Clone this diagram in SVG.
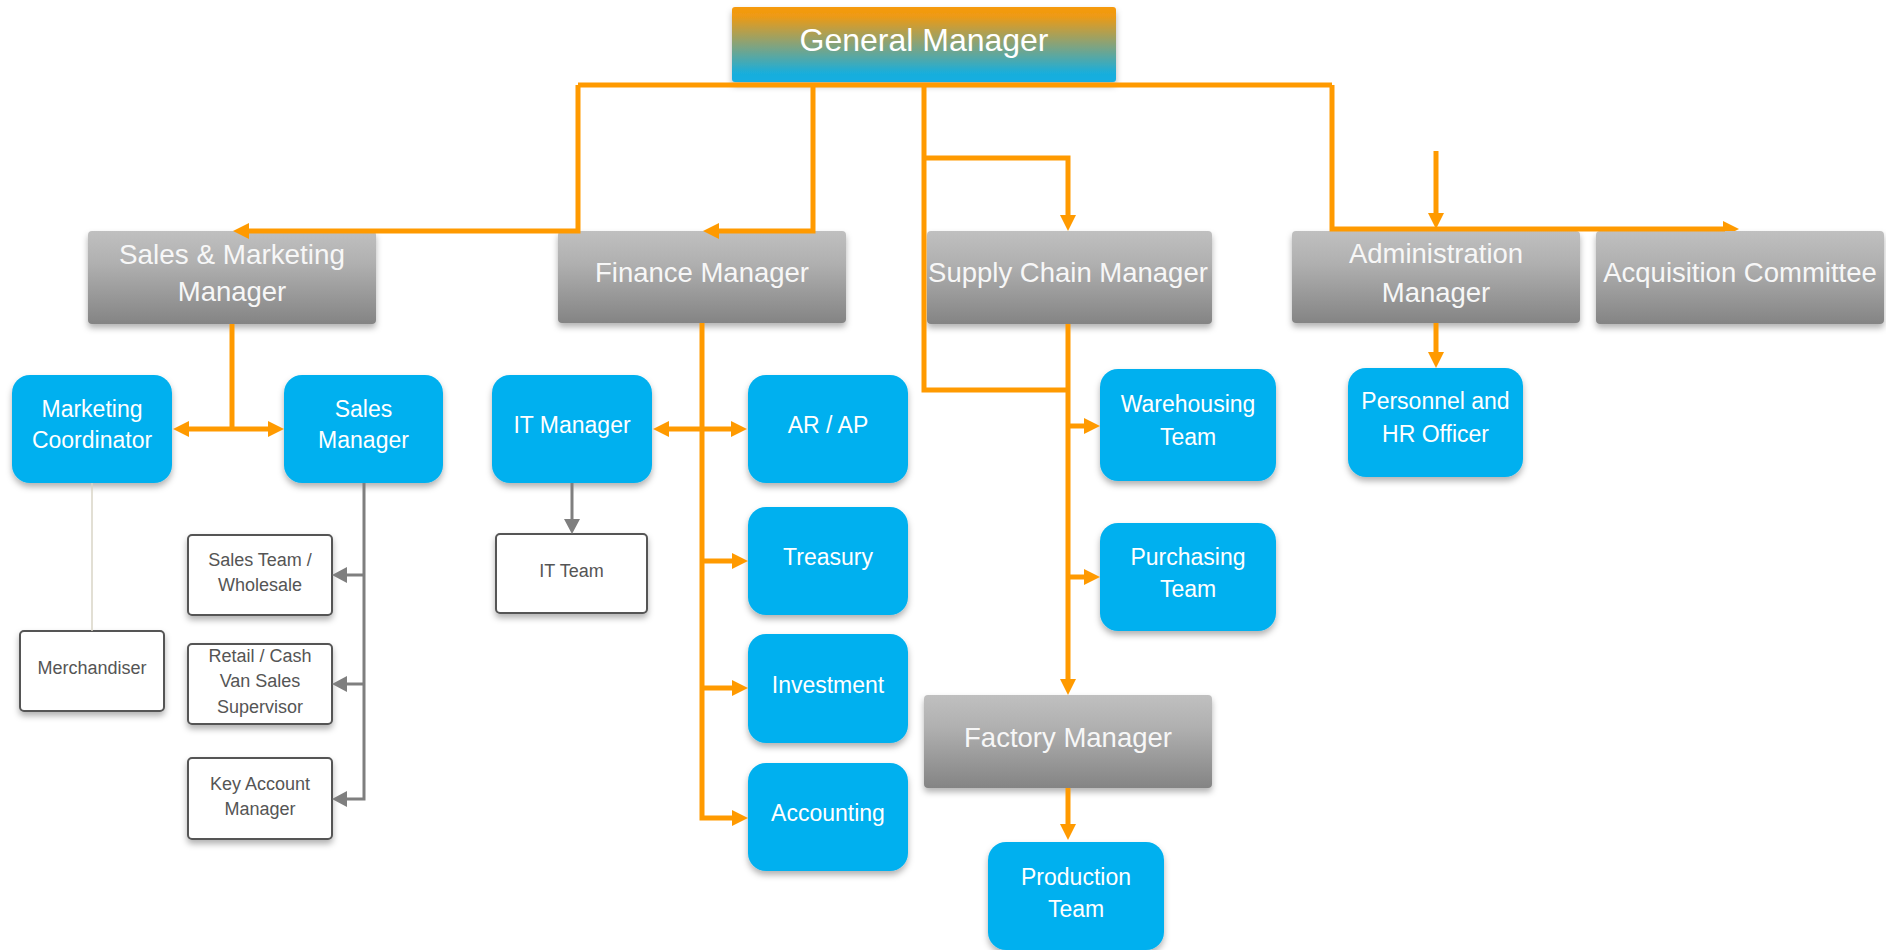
<svg xmlns="http://www.w3.org/2000/svg" width="1886" height="950" viewBox="0 0 1886 950">
<defs>
  <linearGradient id="gmGrad" x1="0" y1="0" x2="0" y2="1">
    <stop offset="0" stop-color="#F69A0C"/>
    <stop offset="0.12" stop-color="#EE9A14"/>
    <stop offset="0.5" stop-color="#86A37A"/>
    <stop offset="0.88" stop-color="#1AAEDB"/>
    <stop offset="1" stop-color="#14AEE2"/>
  </linearGradient>
  <linearGradient id="grayGrad" x1="0" y1="0" x2="0" y2="1">
    <stop offset="0" stop-color="#C0C0C0"/>
    <stop offset="0.35" stop-color="#B0B0B0"/>
    <stop offset="1" stop-color="#848484"/>
  </linearGradient>
  <filter id="shadow" x="-10%" y="-10%" width="120%" height="140%">
    <feDropShadow dx="0" dy="4" stdDeviation="3" flood-color="#000" flood-opacity="0.3"/>
  </filter>
  <marker id="arrO" viewBox="0 0 16 16" markerWidth="16" markerHeight="16" refX="10" refY="8" orient="auto" markerUnits="userSpaceOnUse">
    <path d="M0,0 L16,8 L0,16 z" fill="#FF9A00"/>
  </marker>
  <marker id="arrG" viewBox="0 0 15 16" markerWidth="15" markerHeight="16" refX="11" refY="8" orient="auto" markerUnits="userSpaceOnUse">
    <path d="M0,0 L15,8 L0,16 z" fill="#7F7F7F"/>
  </marker>
  <style>
    .gray { fill: url(#grayGrad); filter: url(#shadow); }
    .blue { fill: #02B0EF; filter: url(#shadow); }
    .white { fill: #FFFFFF; stroke: #555555; stroke-width: 2; filter: url(#shadow); }
    .tg { font-family: "Liberation Sans", Arial, sans-serif; font-size: 27.5px; fill: #F7F7F7; text-anchor: middle; }
    .tb { font-family: "Liberation Sans", Arial, sans-serif; font-size: 23px; fill: #FFFFFF; text-anchor: middle; }
    .tw { font-family: "Liberation Sans", Arial, sans-serif; font-size: 18px; fill: #555555; text-anchor: middle; }
    .o { fill: none; stroke: #FF9A00; stroke-width: 5; stroke-linejoin: miter; }
    .oa { fill: none; stroke: #FF9A00; stroke-width: 5; marker-end: url(#arrO); }
    .g { fill: none; stroke: #7F7F7F; stroke-width: 3; }
    .ga { fill: none; stroke: #7F7F7F; stroke-width: 3; marker-end: url(#arrG); }
  </style>
</defs>
<rect width="1886" height="950" fill="#FFFFFF"/>

<g id="nodes">
  <g id="general-manager">
    <rect x="732" y="7" width="384" height="75" rx="3" fill="url(#gmGrad)" filter="url(#shadow)"/>
    <text x="924" y="51" font-family="Liberation Sans, Arial, sans-serif" font-size="32" fill="#FFFFFF" text-anchor="middle">General Manager</text>
  </g>
  <g id="sales-marketing-manager">
    <rect class="gray" x="88" y="231" width="288" height="93" rx="4"/>
    <text class="tg" x="232" y="264" textLength="226" lengthAdjust="spacingAndGlyphs">Sales &amp; Marketing</text>
    <text class="tg" x="232" y="301">Manager</text>
  </g>
  <g id="finance-manager">
    <rect class="gray" x="558" y="231" width="288" height="92" rx="4"/>
    <text class="tg" x="702" y="282">Finance Manager</text>
  </g>
  <g id="supply-chain-manager">
    <rect class="gray" x="927" y="231" width="285" height="93" rx="4"/>
    <text class="tg" x="1068" y="282">Supply Chain Manager</text>
  </g>
  <g id="administration-manager">
    <rect class="gray" x="1292" y="231" width="288" height="92" rx="4"/>
    <text class="tg" x="1436" y="263">Administration</text>
    <text class="tg" x="1436" y="302">Manager</text>
  </g>
  <g id="acquisition-committee">
    <rect class="gray" x="1596" y="231" width="288" height="93" rx="4"/>
    <text class="tg" x="1740" y="282">Acquisition Committee</text>
  </g>
  <g id="marketing-coordinator">
    <rect class="blue" x="12" y="375" width="160" height="108" rx="18"/>
    <text class="tb" x="92" y="417">Marketing</text>
    <text class="tb" x="92" y="448">Coordinator</text>
  </g>
  <g id="sales-manager">
    <rect class="blue" x="284" y="375" width="159" height="108" rx="18"/>
    <text class="tb" x="363.5" y="417">Sales</text>
    <text class="tb" x="363.5" y="448">Manager</text>
  </g>
  <g id="it-manager">
    <rect class="blue" x="492" y="375" width="160" height="108" rx="18"/>
    <text class="tb" x="572" y="433">IT Manager</text>
  </g>
  <g id="ar-ap">
    <rect class="blue" x="748" y="375" width="160" height="108" rx="18"/>
    <text class="tb" x="828" y="433">AR / AP</text>
  </g>
  <g id="treasury">
    <rect class="blue" x="748" y="507" width="160" height="108" rx="18"/>
    <text class="tb" x="828" y="565">Treasury</text>
  </g>
  <g id="investment">
    <rect class="blue" x="748" y="634" width="160" height="109" rx="18"/>
    <text class="tb" x="828" y="693">Investment</text>
  </g>
  <g id="accounting">
    <rect class="blue" x="748" y="763" width="160" height="108" rx="18"/>
    <text class="tb" x="828" y="821">Accounting</text>
  </g>
  <g id="warehousing-team">
    <rect class="blue" x="1100" y="369" width="176" height="112" rx="18"/>
    <text class="tb" x="1188" y="412">Warehousing</text>
    <text class="tb" x="1188" y="445">Team</text>
  </g>
  <g id="purchasing-team">
    <rect class="blue" x="1100" y="523" width="176" height="108" rx="18"/>
    <text class="tb" x="1188" y="565">Purchasing</text>
    <text class="tb" x="1188" y="597">Team</text>
  </g>
  <g id="factory-manager">
    <rect class="gray" x="924" y="695" width="288" height="93" rx="4"/>
    <text class="tg" x="1068" y="747">Factory Manager</text>
  </g>
  <g id="production-team">
    <rect class="blue" x="988" y="842" width="176" height="108" rx="18"/>
    <text class="tb" x="1076" y="885">Production</text>
    <text class="tb" x="1076" y="917">Team</text>
  </g>
  <g id="personnel-hr-officer">
    <rect class="blue" x="1348" y="368" width="175" height="109" rx="18"/>
    <text class="tb" x="1435.5" y="409">Personnel and</text>
    <text class="tb" x="1435.5" y="442">HR Officer</text>
  </g>
  <g id="it-team">
    <rect class="white" x="496" y="534" width="151" height="79" rx="4"/>
    <text class="tw" x="571.5" y="577">IT Team</text>
  </g>
  <g id="sales-team-wholesale">
    <rect class="white" x="188" y="535" width="144" height="80" rx="4"/>
    <text class="tw" x="260" y="566">Sales Team /</text>
    <text class="tw" x="260" y="591">Wholesale</text>
  </g>
  <g id="retail-cash-van-sales-supervisor">
    <rect class="white" x="188" y="644" width="144" height="80" rx="4"/>
    <text class="tw" x="260" y="662">Retail / Cash</text>
    <text class="tw" x="260" y="687">Van Sales</text>
    <text class="tw" x="260" y="713">Supervisor</text>
  </g>
  <g id="key-account-manager">
    <rect class="white" x="188" y="758" width="144" height="81" rx="4"/>
    <text class="tw" x="260" y="790">Key Account</text>
    <text class="tw" x="260" y="815">Manager</text>
  </g>
  <g id="merchandiser">
    <rect class="white" x="20" y="631" width="144" height="80" rx="4"/>
    <text class="tw" x="92" y="674">Merchandiser</text>
  </g>
</g>

<g id="connectors">
  <!-- GM bus -->
  <path class="o" d="M578,85 H1332"/>
  <path class="oa" d="M578,85 V231 H239"/>
  <path class="oa" d="M813,85 V231 H709"/>
  <path class="o" d="M924,85 V390 H1068"/>
  <path class="oa" d="M924,158 H1068 V225"/>
  <path class="o" d="M1332,85 V229 H1725"/>
  <polygon points="1723,221 1739,229 1735,231 1723,231" fill="#FF9A00"/>
  <path class="oa" d="M1436,151 V223"/>
  <path class="oa" d="M1436,323 V362"/>
  <!-- Sales & Marketing -->
  <path class="o" d="M232,324 V429"/>
  <path class="oa" d="M232,429 H179"/>
  <path class="oa" d="M232,429 H278"/>
  <!-- Finance -->
  <path class="oa" d="M702,323 V818 H742"/>
  <path class="oa" d="M702,429 H659"/>
  <path class="oa" d="M702,429 H741"/>
  <path class="oa" d="M702,561 H742"/>
  <path class="oa" d="M702,688 H742"/>
  <!-- Supply chain -->
  <path class="oa" d="M1068,324 V689"/>
  <path class="oa" d="M1068,426 H1094"/>
  <path class="oa" d="M1068,577 H1094"/>
  <path class="oa" d="M1068,788 V834"/>
  <!-- gray -->
  <path class="ga" d="M572,483 V530"/>
  <path class="ga" d="M364,483 V799 H336"/>
  <path class="ga" d="M364,575 H336"/>
  <path class="ga" d="M364,684 H336"/>
  <path d="M92,483 V631" fill="none" stroke="#D8D4C6" stroke-width="1.5"/>
</g>
</svg>
